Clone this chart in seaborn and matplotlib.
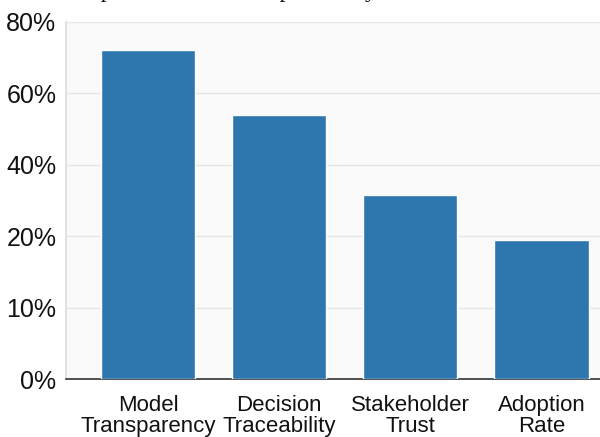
import numpy as np
import pandas as pd
import seaborn as sns
import matplotlib.pyplot as plt

# data
categories = ["Model\nTransparency", "Decision\nTraceability", "Stakeholder\nTrust", "Adoption\nRate"]
values = [72, 54, 31.5, 19.5]          # percent
tick_values = [0, 10, 20, 40, 60, 80]
tick_labels = ["0%", "10%", "20%", "40%", "60%", "80%"]

df = pd.DataFrame({"metric": categories, "value": values})

sns.set_theme(style="whitegrid")
plt.rcParams['font.family'] = ['Liberation Sans', 'DejaVu Sans']

fig = plt.figure(figsize=(6, 4.37), dpi=100)
ax = fig.add_axes([0.11, 0.132, 0.89, 0.818])
ax.set_facecolor("#fafafa")

# the axis ticks are evenly spaced but not linear (0,10,20,40,60,80)
steps = np.arange(len(tick_values))
fwd = lambda v: np.interp(v, tick_values, steps)
inv = lambda s: np.interp(s, steps, tick_values)
ax.set_yscale("function", functions=(fwd, inv))

sns.barplot(data=df, x="metric", y="value", color="#2e77ae", width=0.72,
            saturation=1, ax=ax, zorder=3)

ax.set_ylim(0, 80)
ax.set_xlim(-0.626, 3.447)
ax.set_yticks(tick_values)
ax.set_yticklabels(tick_labels)
ax.set_xlabel("")
ax.set_ylabel("")
ax.tick_params(axis="y", labelsize=18, length=0, colors="#111111", pad=7)
ax.tick_params(axis="x", labelsize=16, length=0, colors="#111111", pad=11)
for lbl in ax.get_xticklabels():
    lbl.set_linespacing(1.0)
ax.grid(axis="y", color="#e6e6e6", linewidth=1)
ax.grid(axis="x", visible=False)
for s in ["top", "right"]:
    ax.spines[s].set_visible(False)
ax.spines["left"].set_color("#dddddd")
ax.spines["bottom"].set_color("#333333")
ax.spines["bottom"].set_linewidth(1.2)

# caption line cut off at the top of the image
fig.text(0.5, 1.02, "Figure 3: Comparative impact of model interpretability on stakeholder trust and adoption rate.",
         ha="center", va="center", fontsize=17, family="Liberation Serif", color="#111111")

fig.savefig("out.png", dpi=100, facecolor="white")
